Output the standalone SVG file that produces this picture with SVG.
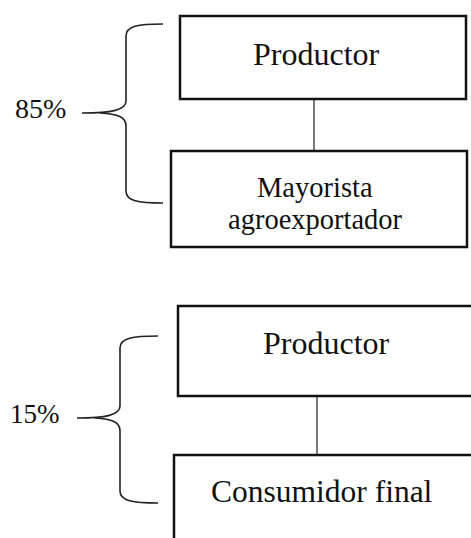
<svg xmlns="http://www.w3.org/2000/svg" width="471" height="538" viewBox="0 0 471 538">
<style>
.box{fill:#fff;stroke:#111;stroke-width:2.5}
.ln{fill:none;stroke:#222;stroke-width:1.2}
.br{fill:none;stroke:#222;stroke-width:1.6}
.t{font-family:"Liberation Serif","Times New Roman",serif;fill:#111}
</style>
<rect width="471" height="538" fill="#fff"/>
<g id="connectors">
<line class="ln" x1="314" y1="99" x2="314" y2="151"/>
<line class="ln" x1="317" y1="396" x2="317" y2="455"/>
</g>
<g id="brace85">
<path class="br" d="M163,24 C138,24 126,26 126,36 L126,101 C126,110 112,113 82,113 M100,113 C118,114 126,117 126,126 L126,191 C126,201 138,203 163,203"/>
<text class="t" x="15" y="118" font-size="28">85%</text>
</g>
<g id="productor1">
<rect class="box" x="180" y="16" width="286" height="83"/>
<text class="t" x="253" y="65" font-size="32">Productor</text>
</g>
<g id="mayorista">
<rect class="box" x="171" y="151" width="296" height="96"/>
<text class="t" x="257" y="197" font-size="28.5">Mayorista</text>
<text class="t" x="228" y="229" font-size="28.5">agroexportador</text>
</g>
<g id="brace15">
<path class="br" d="M158,336 C133,336 120,338 120,348 L120,406 C120,415 106,418 77,418 M95,418 C112,419 120,422 120,431 L120,491 C120,501 133,503 158,503"/>
<text class="t" x="10" y="423" font-size="27">15%</text>
</g>
<g id="productor2">
<rect class="box" x="178" y="306" width="310" height="90"/>
<text class="t" x="263" y="354" font-size="32">Productor</text>
</g>
<g id="consumidor">
<rect class="box" x="174" y="455" width="320" height="100"/>
<text class="t" x="211" y="502" font-size="31.5">Consumidor final</text>
</g>
</svg>
